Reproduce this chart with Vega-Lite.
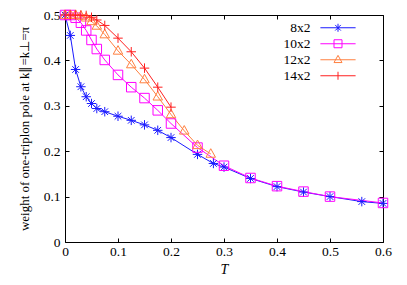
{
  "$schema": "https://vega.github.io/schema/vega-lite/v6.json",
  "width": 318,
  "height": 227,
  "autosize": "none",
  "padding": {"left": 65, "top": 15, "right": 24, "bottom": 43},
  "background": "white",
  "config": {
    "font": "Liberation Serif",
    "view": {"stroke": "black", "strokeWidth": 1},
    "axis": {
      "labelFont": "Liberation Serif",
      "titleFont": "Liberation Serif",
      "labelFontSize": 13.5,
      "titleFontSize": 13,
      "titleFontWeight": "normal",
      "labelColor": "black",
      "titleColor": "black",
      "domainColor": "black",
      "tickColor": "black",
      "tickSize": -4,
      "grid": false
    },
    "legend": {"labelFont": "Liberation Serif", "labelFontSize": 13.5, "labelColor": "black"}
  },
  "data": {
    "values": [
      {"s": "8x2", "T": 0, "w": 0.5}, {"s": "8x2", "T": 0.01, "w": 0.455}, {"s": "8x2", "T": 0.02, "w": 0.38},
      {"s": "8x2", "T": 0.03, "w": 0.342}, {"s": "8x2", "T": 0.04, "w": 0.32}, {"s": "8x2", "T": 0.05, "w": 0.305},
      {"s": "8x2", "T": 0.06, "w": 0.294}, {"s": "8x2", "T": 0.075, "w": 0.287}, {"s": "8x2", "T": 0.1, "w": 0.277},
      {"s": "8x2", "T": 0.125, "w": 0.268}, {"s": "8x2", "T": 0.15, "w": 0.258}, {"s": "8x2", "T": 0.175, "w": 0.246},
      {"s": "8x2", "T": 0.2, "w": 0.23}, {"s": "8x2", "T": 0.25, "w": 0.193}, {"s": "8x2", "T": 0.28, "w": 0.173},
      {"s": "8x2", "T": 0.3, "w": 0.165}, {"s": "8x2", "T": 0.35, "w": 0.14}, {"s": "8x2", "T": 0.4, "w": 0.122},
      {"s": "8x2", "T": 0.45, "w": 0.11}, {"s": "8x2", "T": 0.5, "w": 0.1}, {"s": "8x2", "T": 0.56, "w": 0.089},
      {"s": "8x2", "T": 0.6, "w": 0.085},
      {"s": "10x2", "T": 0, "w": 0.5}, {"s": "10x2", "T": 0.01, "w": 0.5}, {"s": "10x2", "T": 0.02, "w": 0.494},
      {"s": "10x2", "T": 0.03, "w": 0.483}, {"s": "10x2", "T": 0.04, "w": 0.466}, {"s": "10x2", "T": 0.05, "w": 0.445},
      {"s": "10x2", "T": 0.06, "w": 0.425}, {"s": "10x2", "T": 0.075, "w": 0.401}, {"s": "10x2", "T": 0.1, "w": 0.368},
      {"s": "10x2", "T": 0.125, "w": 0.341}, {"s": "10x2", "T": 0.15, "w": 0.317}, {"s": "10x2", "T": 0.175, "w": 0.29},
      {"s": "10x2", "T": 0.2, "w": 0.261}, {"s": "10x2", "T": 0.25, "w": 0.208}, {"s": "10x2", "T": 0.3, "w": 0.168},
      {"s": "10x2", "T": 0.35, "w": 0.141}, {"s": "10x2", "T": 0.4, "w": 0.123}, {"s": "10x2", "T": 0.45, "w": 0.111},
      {"s": "10x2", "T": 0.5, "w": 0.1}, {"s": "10x2", "T": 0.6, "w": 0.086},
      {"s": "12x2", "T": 0, "w": 0.5}, {"s": "12x2", "T": 0.01, "w": 0.5}, {"s": "12x2", "T": 0.02, "w": 0.5},
      {"s": "12x2", "T": 0.03, "w": 0.498}, {"s": "12x2", "T": 0.04, "w": 0.494}, {"s": "12x2", "T": 0.05, "w": 0.486},
      {"s": "12x2", "T": 0.06, "w": 0.476}, {"s": "12x2", "T": 0.075, "w": 0.457}, {"s": "12x2", "T": 0.1, "w": 0.421},
      {"s": "12x2", "T": 0.125, "w": 0.391}, {"s": "12x2", "T": 0.15, "w": 0.358}, {"s": "12x2", "T": 0.175, "w": 0.32},
      {"s": "12x2", "T": 0.2, "w": 0.281}, {"s": "12x2", "T": 0.225, "w": 0.245}, {"s": "12x2", "T": 0.25, "w": 0.213},
      {"s": "12x2", "T": 0.275, "w": 0.194},
      {"s": "14x2", "T": 0, "w": 0.5}, {"s": "14x2", "T": 0.01, "w": 0.5}, {"s": "14x2", "T": 0.02, "w": 0.5},
      {"s": "14x2", "T": 0.03, "w": 0.5}, {"s": "14x2", "T": 0.04, "w": 0.499}, {"s": "14x2", "T": 0.05, "w": 0.495},
      {"s": "14x2", "T": 0.06, "w": 0.489}, {"s": "14x2", "T": 0.075, "w": 0.477}, {"s": "14x2", "T": 0.1, "w": 0.449},
      {"s": "14x2", "T": 0.125, "w": 0.419}, {"s": "14x2", "T": 0.15, "w": 0.383}, {"s": "14x2", "T": 0.175, "w": 0.341},
      {"s": "14x2", "T": 0.2, "w": 0.297}
    ]
  },
  "resolve": {"axis": {"x": "independent", "y": "independent"}},
  "layer": [
    {
      "mark": {"type": "line", "strokeWidth": 1, "clip": true},
      "encoding": {
        "x": {"field": "T", "type": "quantitative", "scale": {"domain": [0, 0.6], "nice": false, "zero": false},
              "axis": {"title": "T", "titleFontStyle": "italic", "titleFontSize": 14, "values": [0, 0.1, 0.2, 0.3, 0.4, 0.5, 0.6], "format": ".1~f", "labelPadding": 6, "titlePadding": 5, "domain": false, "labelFlush": false}},
        "y": {"field": "w", "type": "quantitative", "scale": {"domain": [0, 0.5], "nice": false},
              "axis": {"title": "weight of one-triplon pole at k∥=k⊥=π", "values": [0, 0.1, 0.2, 0.3, 0.4, 0.5], "format": ".1~f", "labelPadding": 9, "titlePadding": 12, "domain": false, "labelFlush": false}},
        "color": {"field": "s", "type": "nominal", "scale": {"domain": ["8x2", "10x2", "12x2", "14x2"], "range": ["#1a1aff", "#ff00ff", "#ff8040", "#ff2020"]},
          "legend": {
            "title": null, "orient": "none", "legendX": 232, "legendY": 6, "padding": 0,
            "labelAlign": "right", "labelOffset": 0, "symbolSize": 64, "rowPadding": 1,
            "symbolStrokeWidth": 1,
            "encode": {"symbols": {"update": {
              "shape": {"signal": "datum.value === '8x2' ? 'M-4.4,0L4.4,0M0,-1L0,1M-0.7,-0.7L0.7,0.7M-0.7,0.7L0.7,-0.7' : datum.value === '10x2' ? 'M-4.4,0L4.4,0M-1,-1L1,-1L1,1L-1,1Z' : datum.value === '12x2' ? 'M-4.4,0L4.4,0M0,-1.1L1,0.7L-1,0.7Z' : 'M-4.4,0L4.4,0M0,-1L0,1'"},
              "size": {"value": 64},
              "x": {"value": 41},
              "fill": {"value": "transparent"},
              "strokeWidth": {"value": 1}
            }}}
          }},
        "detail": {"field": "s"}
      }
    },
    {
      "transform": [{"filter": "datum.s === '8x2'"}],
      "mark": {"type": "point", "filled": false, "size": 90, "strokeWidth": 1, "opacity": 1, "color": "#1a1aff",
               "shape": "M-1,0L1,0M0,-1L0,1M-0.7,-0.7L0.7,0.7M-0.7,0.7L0.7,-0.7"},
      "encoding": {
        "x": {"field": "T", "type": "quantitative", "axis": {"orient": "top", "labels": false, "title": null, "domain": false, "values": [0, 0.1, 0.2, 0.3, 0.4, 0.5, 0.6]}},
        "y": {"field": "w", "type": "quantitative", "axis": {"orient": "right", "labels": false, "title": null, "domain": false, "values": [0, 0.1, 0.2, 0.3, 0.4, 0.5]}}
      }
    },
    {
      "transform": [{"filter": "datum.s === '10x2'"}],
      "mark": {"type": "point", "filled": false, "size": 90, "strokeWidth": 1, "opacity": 1, "color": "#ff00ff",
               "shape": "M-1,-1L1,-1L1,1L-1,1Z"},
      "encoding": {
        "x": {"field": "T", "type": "quantitative", "axis": null},
        "y": {"field": "w", "type": "quantitative", "axis": null}
      }
    },
    {
      "transform": [{"filter": "datum.s === '12x2'"}],
      "mark": {"type": "point", "filled": false, "size": 90, "strokeWidth": 1, "opacity": 1, "color": "#ff8040",
               "shape": "M0,-1.1L1,0.7L-1,0.7Z"},
      "encoding": {
        "x": {"field": "T", "type": "quantitative", "axis": null},
        "y": {"field": "w", "type": "quantitative", "axis": null}
      }
    },
    {
      "transform": [{"filter": "datum.s === '14x2'"}],
      "mark": {"type": "point", "filled": false, "size": 90, "strokeWidth": 1, "opacity": 1, "color": "#ff2020",
               "shape": "M-1,0L1,0M0,-1L0,1"},
      "encoding": {
        "x": {"field": "T", "type": "quantitative", "axis": null},
        "y": {"field": "w", "type": "quantitative", "axis": null}
      }
    }
  ]
}
